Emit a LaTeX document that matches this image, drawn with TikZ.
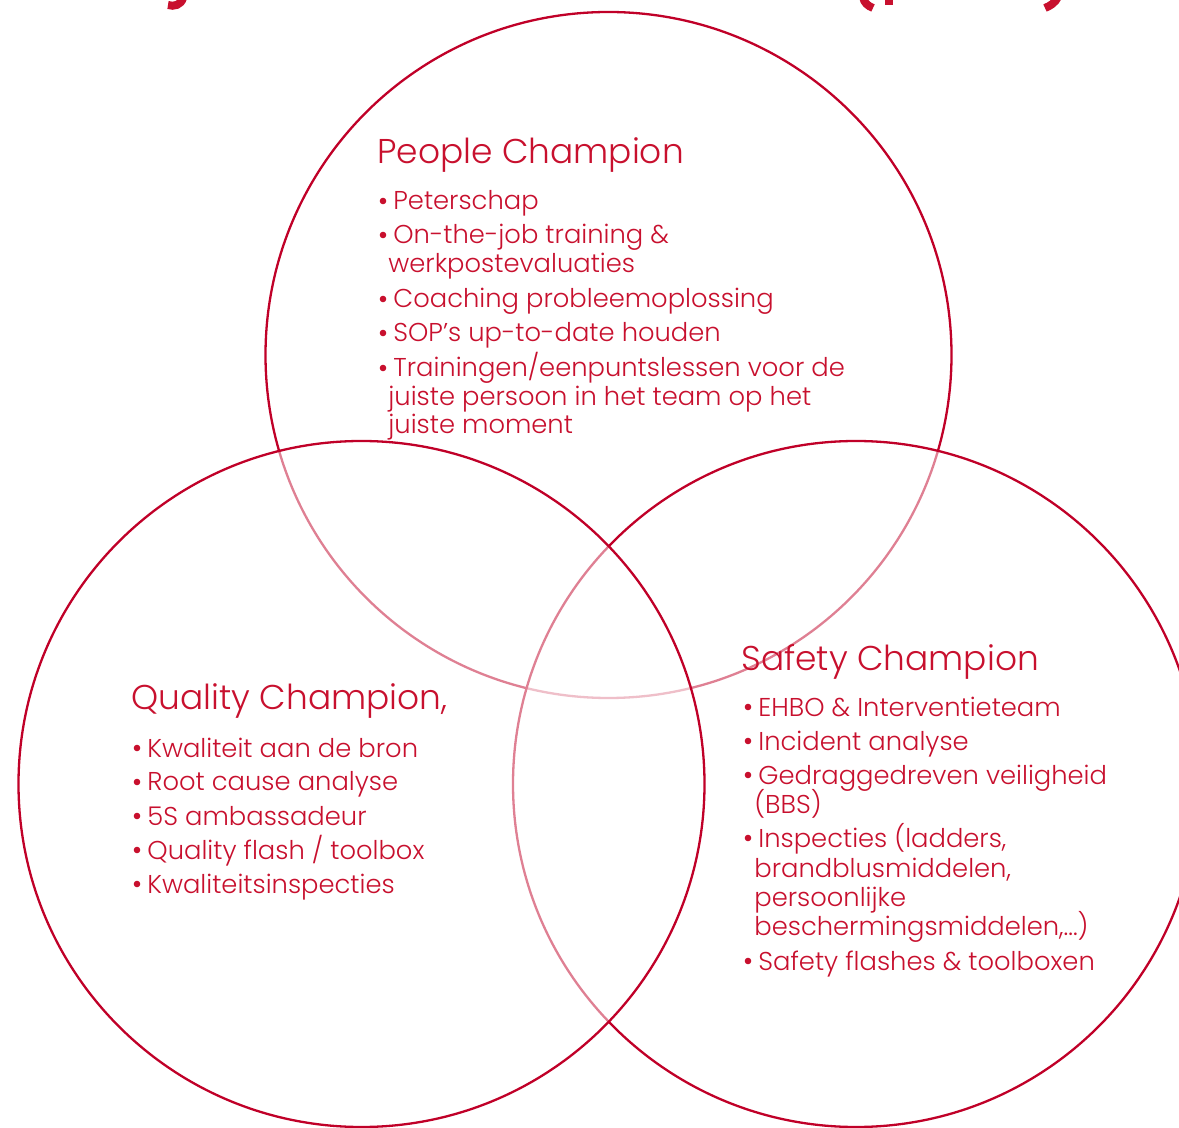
\documentclass[tikz,border=0pt]{standalone}
\usepackage{fontspec}
\IfFontExistsTF{Poppins Light}{\setmainfont{Poppins Light}}{\setmainfont{Poppins}}
\definecolor{cred}{RGB}{192,0,40}
\definecolor{tred}{RGB}{200,16,46}
\tikzset{
  ring/.style={circle, minimum size=343pt, inner sep=0pt, draw=cred, line width=1.15pt, fill=white, fill opacity=0.5},
  ttl/.style={anchor=base west, inner sep=0pt, text=tred, font=\fontsize{17.2pt}{20pt}\selectfont},
  txt/.style={anchor=base west, inner sep=0pt, text=tred, font=\fontsize{12.9pt}{15pt}\selectfont},
  dot/.style={circle, fill=tred, inner sep=0pt, minimum size=3.3pt},
  frag/.style={draw=tred, line width=4pt}
}
\begin{document}
\begin{tikzpicture}[x=0.5pt,y=-0.5pt]
\useasboundingbox (0,0) rectangle (1179,1128);
\clip (0,0) rectangle (1179,1128);
% circles
\node[ring] (people) at (608.5,355) {};
\node[ring] (safety) at (856,784) {};
\node[ring] (quality) at (361.5,784) {};
% clipped title fragments at the top edge
\draw[frag] (183,-2) .. controls (181,5) and (174,7) .. (168,5);
\draw[frag] (863,-3) .. controls (864,3) and (868,6) .. (873,8);
\draw[frag] (889,-2) -- (889,5);
\draw[frag] (1058,-3) .. controls (1055,3) and (1050,6) .. (1045,8);
% People Champion
\node[ttl] (pt) at (377,164) {People Champion};
\node[dot] (p1b) at (383,201) {};
\node[txt] (p1) at (393,210) {Peterschap};
\node[dot] (p2b) at (383,235) {};
\node[txt] (p2) at (393,244) {On-the-job training \&};
\node[txt] (p2c) at (388,273) {werkpostevaluaties};
\node[dot] (p3b) at (383,299) {};
\node[txt] (p3) at (393,308) {Coaching probleemoplossing};
\node[dot] (p4b) at (383,333) {};
\node[txt] (p4) at (393,342) {SOP’s up-to-date houden};
\node[dot] (p5b) at (383,368) {};
\node[txt] (p5) at (393,377) {Trainingen/eenpuntslessen voor de};
\node[txt] (p5c) at (388,406) {juiste persoon in het team op het};
\node[txt] (p5d) at (388,434) {juiste moment};
% Quality Champion
\node[ttl] (qt) at (131,710) {Quality Champion,};
\node[dot] (q1b) at (137,748) {};
\node[txt] (q1) at (147,757) {Kwaliteit aan de bron};
\node[dot] (q2b) at (137,782) {};
\node[txt] (q2) at (147,791) {Root cause analyse};
\node[dot] (q3b) at (137,816) {};
\node[txt] (q3) at (147,825) {5S ambassadeur};
\node[dot] (q4b) at (137,850) {};
\node[txt] (q4) at (147,859) {Quality flash / toolbox};
\node[dot] (q5b) at (137,884) {};
\node[txt] (q5) at (147,893) {Kwaliteitsinspecties};
% Safety Champion
\node[ttl] (st) at (741,670) {Safety Champion};
\node[dot] (s1b) at (748,707) {};
\node[txt] (s1) at (758,716) {EHBO \& Interventieteam};
\node[dot] (s2b) at (748,741) {};
\node[txt] (s2) at (758,750) {Incident analyse};
\node[dot] (s3b) at (748,775) {};
\node[txt] (s3) at (758,784) {Gedraggedreven veiligheid};
\node[txt] (s3c) at (754,813) {(BBS)};
\node[dot] (s4b) at (748,838) {};
\node[txt] (s4) at (758,847) {Inspecties (ladders,};
\node[txt] (s4c) at (754,877) {brandblusmiddelen,};
\node[txt] (s4d) at (754,906) {persoonlijke};
\node[txt] (s4e) at (754,935) {beschermingsmiddelen,...)};
\node[dot] (s5b) at (748,961) {};
\node[txt] (s5) at (758,970) {Safety flashes \& toolboxen};
\end{tikzpicture}
\end{document}
